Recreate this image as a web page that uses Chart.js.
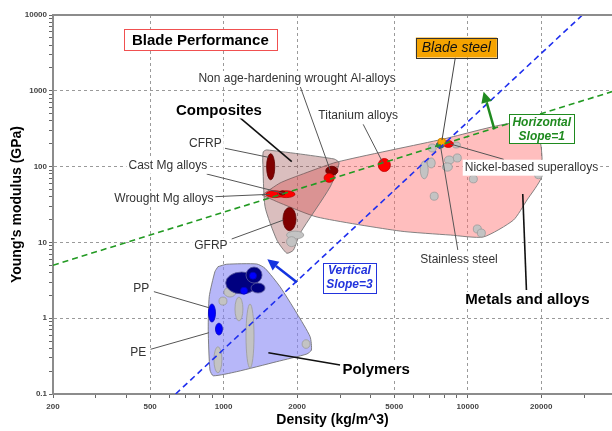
<!DOCTYPE html>
<html>
<head>
<meta charset="utf-8">
<script src="https://cdn.jsdelivr.net/npm/chart.js@4.4.1/dist/chart.umd.min.js"></script>
<style>
  html, body { margin: 0; padding: 0; background: #fff; }
  #wrap { width: 612px; height: 431px; }
</style>
</head>
<body>
<div id="wrap"><canvas id="chart" width="612" height="431"></canvas></div>
<script>
// ---- axes ----
const xTicks = [200, 300, 400, 500, 600, 700, 800, 900, 1000, 2000, 3000, 4000, 5000, 6000, 7000, 8000, 9000, 10000, 20000, 30000];
const xLabels = [200, 500, 1000, 2000, 5000, 10000, 20000];
const yTicks = [0.1, 0.2, 0.3, 0.4, 0.5, 0.6, 0.7, 0.8, 0.9, 1, 2, 3, 4, 5, 6, 7, 8, 9, 10, 20, 30, 40, 50, 60, 70, 80, 90,
  100, 200, 300, 400, 500, 600, 700, 800, 900, 1000, 2000, 3000, 4000, 5000, 6000, 7000, 8000, 9000, 10000];
const yLabels = [0.1, 1, 10, 100, 1000, 10000];
const yLabelText = ['0.1', '1', '10', '100', '1000', '10000'];

// ---- family envelopes: [density, modulus] ----
const polymersEnvelope = [[948, 4.78], [1029, 5.15], [1367, 5.19], [1478, 4.55], [1703, 2.6], [1995, 1.16], [2261, 0.57],
  [2289, 0.38], [2192, 0.337], [1651, 0.267], [1131, 0.197], [907, 0.174], [879, 0.207], [865, 0.7], [873, 1.92], [921, 4.11]];
const compositesEnvelope = [[1446, 122], [1454, 157], [1502, 166], [2836, 126], [2973, 111.5], [2732, 54], [2057, 13.2],
  [1931, 7.9], [1814, 7.2], [1651, 10.8], [1478, 29.6]];
const metalsEnvelope = [[1437, 42.2], [1703, 60.8], [2057, 77.5], [2918, 115], [7946, 231], [14962, 372], [18077, 304],
  [19869, 205], [20059, 72.9], [17500, 36.3], [15393, 19.7], [11594, 11.8], [8490, 12.5], [5292, 14.1], [2416, 21.6], [1703, 33.1]];

// ---- guide lines ----
const slope1Line = [[200, 5], [39000, 975]];
const slope3Line = [[636, 0.1], [29500, 10000]];

// ---- material bubbles: [density min, density max, modulus min, modulus max] ----
const metalGrayBubbles = [[6890, 7430, 156, 199], [6390, 6890, 69, 119], [6830, 7360, 96, 130], [8020, 8810, 108, 138],
  [7870, 8650, 87, 112], [8730, 9410, 115, 147], [10150, 10950, 61, 77], [7020, 7570, 36, 46], [10540, 11370, 13.3, 17],
  [10950, 11810, 11.8, 15], [18770, 20240, 69, 87], [8650, 9330, 176, 211]];
const compositeGrayBubbles = [[1810, 2130, 11.1, 14.1], [1810, 1990, 8.8, 11.9]];
const polymerGrayBubbles = [[1003, 1124, 1.9, 2.58], [957, 1032, 1.49, 1.9], [1113, 1200, 0.92, 1.9], [1235, 1332, 0.22, 1.54],
  [913, 984, 0.19, 0.42], [2096, 2261, 0.4, 0.52]];
const navyBubbles = [[1020, 1380, 2.09, 4.07], [1235, 1437, 2.91, 4.73], [1295, 1478, 2.15, 2.91]];
const blueBubbles = [[1276, 1364, 3.27, 4.05], [1172, 1253, 2.07, 2.56], [867, 926, 0.89, 1.54], [926, 989, 0.6, 0.86]];
const darkRedBubbles = [[1500, 1620, 67, 148], [1750, 1980, 14.3, 28.9], [2620, 2940, 77, 101]];
const redBubbles = [[1490, 1770, 39, 48], [1660, 1960, 39, 48], [2580, 2840, 62, 81], [4300, 4820, 86, 128]];
const mgCore = [[1690, 1790, 42, 48]];
const stainlessSteel = [7430, 8020, 176, 211];
const nickelAlloys = [7940, 8730, 179, 221];
const bladeSteel = [7540, 8130, 187, 238];

// ---- labels: text, label centre, leader from -> to ----
const materialLabels = [
  ['Non age-hardening wrought Al-alloys', 2000, 1431, [2056, 1157, 2731, 90]],
  ['Titanium alloys', 3557, 465, [3730, 361, 4505, 110.5]],
  ['CFRP', 842, 198.7, [1013, 174.3, 1525, 132.7]],
  ['Cast Mg alloys', 591, 102.8, [852, 79.9, 1757, 44.4]],
  ['Wrought Mg alloys', 569, 37.4, [921, 40.1, 1549, 43.1]],
  ['GFRP', 887, 9.15, [1079, 11.09, 1757, 19.7]],
  ['PP', 460, 2.45, [518, 2.24, 871, 1.375]],
  ['PE', 447, 0.3505, [502, 0.3888, 871, 0.644]],
  ['Stainless steel', 9213, 5.98, [9108, 7.94, 7721, 192.7]],
  ['Nickel-based superalloys', 18240, 96.7, [14040, 124.8, 8488, 198.7]]
];
const groupLabels = [
  ['Composites', 957, 550, [1124, 490, 1902, 116]],
  ['Polymers', 4217, 0.2073, [3002, 0.2412, 1525, 0.3505]],
  ['Metals and alloys', 17565, 1.738, [17400, 2.354, 16804, 43.5]]
];
const titleText = 'Blade Performance';
const titlePos = [803, 4680];
const bladeLabel = ['Blade steel', 8981, 3725, [8896, 2734, 7846, 224]];
const slope1Note = [['Horizontal', 'Slope=1'], 20110, 315];
const slope3Note = [['Vertical', 'Slope=3'], 3278, 3.44];
const slope1Arrow = [12860, 310, 11620, 973];
const slope3Arrow = [1994, 2.975, 1510, 5.98];

const FONT = "'Liberation Sans', Arial, sans-serif";
const toXY = arr => arr.map(p => ({ x: p[0], y: p[1] }));
const closed = arr => toXY(arr.concat([arr[0]]));

function ellipseOf(chart, b) {
  const sx = chart.scales.x, sy = chart.scales.y;
  const x0 = sx.getPixelForValue(b[0]), x1 = sx.getPixelForValue(b[1]);
  const y0 = sy.getPixelForValue(b[2]), y1 = sy.getPixelForValue(b[3]);
  return { cx: (x0 + x1) / 2, cy: (y0 + y1) / 2, rx: Math.abs(x1 - x0) / 2, ry: Math.abs(y1 - y0) / 2 };
}

function drawBubbles(ctx, chart, list, fill, stroke) {
  list.forEach(b => {
    const e = ellipseOf(chart, b);
    ctx.beginPath();
    ctx.ellipse(e.cx, e.cy, e.rx, e.ry, 0, 0, Math.PI * 2);
    ctx.fillStyle = fill;
    ctx.fill();
    ctx.lineWidth = 0.8;
    ctx.strokeStyle = stroke;
    ctx.stroke();
  });
}

function leader(ctx, chart, l, color, width) {
  const sx = chart.scales.x, sy = chart.scales.y;
  ctx.beginPath();
  ctx.moveTo(sx.getPixelForValue(l[0]), sy.getPixelForValue(l[1]));
  ctx.lineTo(sx.getPixelForValue(l[2]), sy.getPixelForValue(l[3]));
  ctx.strokeStyle = color;
  ctx.lineWidth = width;
  ctx.stroke();
}

function textWithBg(ctx, text, cx, cy, font, color) {
  ctx.font = font;
  const w = ctx.measureText(text).width;
  ctx.fillStyle = '#fff';
  ctx.fillRect(cx - w / 2 - 2, cy - 8, w + 4, 16);
  ctx.fillStyle = color;
  ctx.textAlign = 'center';
  ctx.textBaseline = 'middle';
  ctx.fillText(text, cx, cy);
}

function box(ctx, cx, cy, w, h, fill, stroke) {
  ctx.fillStyle = fill;
  ctx.fillRect(cx - w / 2, cy - h / 2, w, h);
  ctx.strokeStyle = stroke;
  ctx.lineWidth = 1;
  ctx.strokeRect(Math.round(cx - w / 2) + 0.5, Math.round(cy - h / 2) + 0.5, w, h);
}

function arrow(ctx, chart, a, color) {
  const sx = chart.scales.x, sy = chart.scales.y;
  const x1 = sx.getPixelForValue(a[0]), y1 = sy.getPixelForValue(a[1]);
  const x2 = sx.getPixelForValue(a[2]), y2 = sy.getPixelForValue(a[3]);
  const ang = Math.atan2(y2 - y1, x2 - x1);
  const head = 11, half = 5.5;
  const bx = x2 - head * Math.cos(ang), by = y2 - head * Math.sin(ang);
  ctx.beginPath();
  ctx.moveTo(x1, y1);
  ctx.lineTo(bx, by);
  ctx.strokeStyle = color;
  ctx.lineWidth = 2.5;
  ctx.stroke();
  ctx.beginPath();
  ctx.moveTo(x2, y2);
  ctx.lineTo(bx + half * Math.sin(ang), by - half * Math.cos(ang));
  ctx.lineTo(bx - half * Math.sin(ang), by + half * Math.cos(ang));
  ctx.closePath();
  ctx.fillStyle = color;
  ctx.fill();
}

const overlay = {
  id: 'overlay',
  beforeDatasetDraw(chart, args) {
    // bubbles sit above the envelopes but below the guide lines
    if (args.index !== 1) return;
    const ctx = chart.ctx, a = chart.chartArea;
    ctx.save();
    ctx.beginPath();
    ctx.rect(a.left, a.top, a.right - a.left, a.bottom - a.top);
    ctx.clip();
    drawBubbles(ctx, chart, metalGrayBubbles, '#c3c3c3', '#9a9a9a');
    drawBubbles(ctx, chart, compositeGrayBubbles, '#c3c3c3', '#9a9a9a');
    drawBubbles(ctx, chart, polymerGrayBubbles, '#c3c3c3', '#9a9a9a');
    drawBubbles(ctx, chart, navyBubbles, '#000080', '#5a5a9a');
    drawBubbles(ctx, chart, blueBubbles, '#0000ff', '#0000c0');
    drawBubbles(ctx, chart, darkRedBubbles, '#800000', '#600000');
    drawBubbles(ctx, chart, redBubbles, '#ff0000', '#c00000');
    drawBubbles(ctx, chart, mgCore, '#900000', '#700000');
    drawBubbles(ctx, chart, [stainlessSteel], '#2a8070', '#1d5f52');
    drawBubbles(ctx, chart, [nickelAlloys], '#ff0000', '#c00000');
    drawBubbles(ctx, chart, [bladeSteel], '#ffa500', '#c07800');
    ctx.restore();
  },
  afterDatasetsDraw(chart) {
    const ctx = chart.ctx, a = chart.chartArea;
    const sx = chart.scales.x, sy = chart.scales.y;
    ctx.save();

    // top frame line
    ctx.beginPath();
    ctx.moveTo(a.left - 1, a.top);
    ctx.lineTo(a.right, a.top);
    ctx.strokeStyle = '#8c8c8c';
    ctx.lineWidth = 2;
    ctx.stroke();

    materialLabels.forEach(l => leader(ctx, chart, l[3], '#555', 1));
    groupLabels.forEach(l => leader(ctx, chart, l[3], '#111', 1.6));
    leader(ctx, chart, bladeLabel[3], '#444', 1);

    materialLabels.forEach(l => textWithBg(ctx, l[0], sx.getPixelForValue(l[1]), sy.getPixelForValue(l[2]),
      '12px ' + FONT, '#333'));
    groupLabels.forEach(l => textWithBg(ctx, l[0], sx.getPixelForValue(l[1]), sy.getPixelForValue(l[2]),
      'bold 15px ' + FONT, '#000'));

    // title box
    let cx = sx.getPixelForValue(titlePos[0]), cy = sy.getPixelForValue(titlePos[1]);
    box(ctx, cx, cy, 153, 21, '#fff', '#f05050');
    ctx.font = 'bold 15px ' + FONT;
    ctx.fillStyle = '#000';
    ctx.textAlign = 'center';
    ctx.textBaseline = 'middle';
    ctx.fillText(titleText, cx, cy + 1);

    // blade steel box
    cx = sx.getPixelForValue(bladeLabel[1]); cy = sy.getPixelForValue(bladeLabel[2]);
    box(ctx, cx, cy, 81, 20, '#f5a300', '#333');
    ctx.font = 'italic 14px ' + FONT;
    ctx.fillStyle = '#111';
    ctx.fillText(bladeLabel[0], cx, cy + 1);

    // slope notes + arrows
    arrow(ctx, chart, slope1Arrow, '#1f8a1f');
    arrow(ctx, chart, slope3Arrow, '#1434e0');
    [[slope1Note, '#1f8a1f', 65, 29], [slope3Note, '#2233dd', 53, 30]].forEach(([n, col, w, h]) => {
      const nx = sx.getPixelForValue(n[1]), ny = sy.getPixelForValue(n[2]);
      box(ctx, nx, ny, w, h, '#fff', col);
      ctx.font = 'italic bold 12px ' + FONT;
      ctx.fillStyle = col;
      ctx.fillText(n[0][0], nx, ny - 6.5);
      ctx.fillText(n[0][1], nx, ny + 7.5);
    });

    // axis titles
    ctx.font = 'bold 14px ' + FONT;
    ctx.fillStyle = '#000';
    ctx.fillText('Density (kg/m^3)', (a.left + a.right) / 2, 420);
    ctx.translate(17, (a.top + a.bottom) / 2);
    ctx.rotate(-Math.PI / 2);
    ctx.fillText("Young's modulus (GPa)", 0, 0);
    ctx.restore();
  }
};

const envelopeStyle = (fill) => ({
  showLine: true, fill: 'shape', backgroundColor: fill, borderColor: 'rgba(110,110,110,0.85)',
  borderWidth: 1, pointRadius: 0, tension: 0.2
});

new Chart(document.getElementById('chart'), {
  type: 'scatter',
  data: {
    datasets: [
      { label: 'Slope 1', data: toXY(slope1Line), showLine: true, borderColor: '#229a22', borderWidth: 1.6,
        borderDash: [6, 4], pointRadius: 0, fill: false, order: 0 },
      { label: 'Slope 3', data: toXY(slope3Line), showLine: true, borderColor: '#1f2fee', borderWidth: 1.6,
        borderDash: [6, 4], pointRadius: 0, fill: false, order: 1 },
      Object.assign({ label: 'Composites', data: closed(compositesEnvelope), order: 2 }, envelopeStyle('rgba(150,70,70,0.35)')),
      Object.assign({ label: 'Metals', data: closed(metalsEnvelope), order: 3 }, envelopeStyle('rgba(255,110,110,0.45)')),
      Object.assign({ label: 'Polymers', data: closed(polymersEnvelope), order: 4 }, envelopeStyle('rgba(135,135,245,0.6)'))
    ]
  },
  options: {
    responsive: false,
    animation: false,
    layout: { padding: { top: 15, right: 0, left: 0, bottom: 0 } },
    plugins: { legend: { display: false }, tooltip: { enabled: false } },
    scales: {
      x: {
        type: 'logarithmic', min: 200, max: 39000,
        afterBuildTicks: s => { s.ticks = xTicks.map(v => ({ value: v })); },
        afterFit: s => { s.height = 37; },
        ticks: {
          autoSkip: false, maxRotation: 0, padding: 4, color: '#444',
          font: { size: 8, weight: 'bold', family: FONT },
          callback: v => xLabels.includes(v) ? String(v) : ''
        },
        grid: {
          color: c => (c.tick && xLabels.includes(c.tick.value) && c.tick.value !== 200) ? '#9a9a9a' : 'rgba(0,0,0,0)',
          lineWidth: 1, tickColor: '#666', tickLength: 4
        },
        border: { color: '#8c8c8c', width: 2, dash: [3, 3] }
      },
      y: {
        type: 'logarithmic', min: 0.1, max: 10000,
        afterBuildTicks: s => { s.ticks = yTicks.map(v => ({ value: v })); },
        afterFit: s => { s.width = 53; },
        ticks: {
          autoSkip: false, padding: 2, color: '#444',
          font: { size: 8, weight: 'bold', family: FONT },
          callback: v => { const i = yLabels.indexOf(v); return i >= 0 ? yLabelText[i] : ''; }
        },
        grid: {
          color: c => (c.tick && yLabels.includes(c.tick.value)) ? '#9a9a9a' : 'rgba(0,0,0,0)',
          lineWidth: 1, tickColor: '#666', tickLength: 4
        },
        border: { color: '#8c8c8c', width: 2, dash: [3, 3] }
      }
    }
  },
  plugins: [overlay]
});
</script>
</body>
</html>
